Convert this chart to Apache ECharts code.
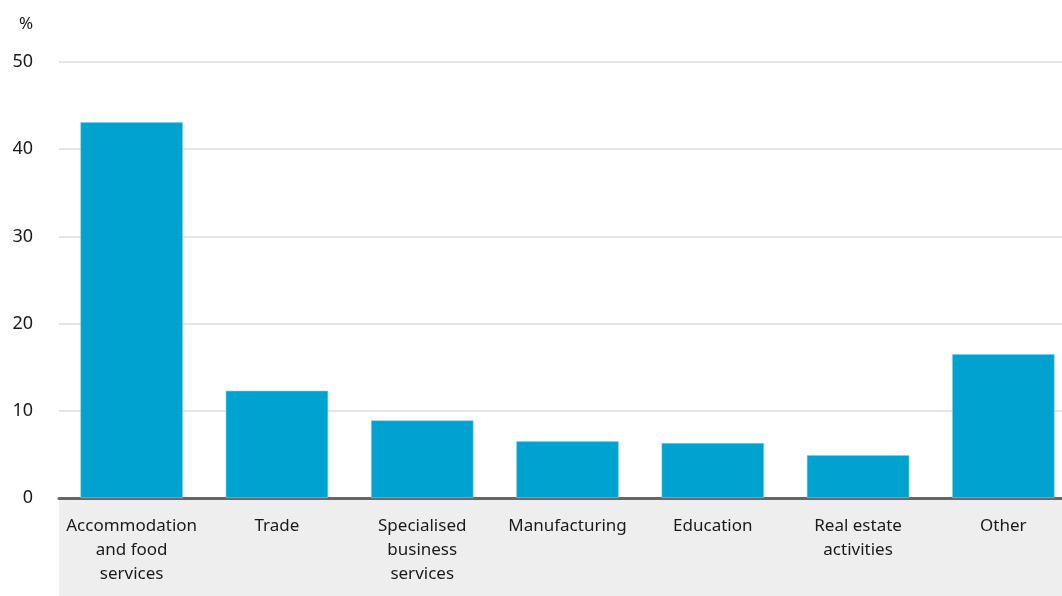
<!DOCTYPE html>
<html><head><meta charset="utf-8">
<script src="https://cdn.jsdelivr.net/npm/echarts@6/dist/echarts.min.js"></script>
<style>html,body{margin:0;padding:0;background:#fff;overflow:hidden;width:1062px;height:596px}#c{width:1076px;height:596px}</style>
</head><body><div id="c"></div>
<script>
const categories = ["Accommodation\nand food\nservices", "Trade", "Specialised\nbusiness\nservices", "Manufacturing", "Education", "Real estate\nactivities", "Other"];
const values = [43.1, 12.3, 8.9, 6.5, 6.3, 4.9, 16.5];
const yTicks = [0, 10, 20, 30, 40, 50];

const chart = echarts.init(document.getElementById('c'), null, {renderer: 'canvas', width: 1076, height: 596});
const FONT = 'Noto Sans';
chart.setOption({
  animation: false,
  title: {text: '%', left: 14, top: 11, textStyle: {fontFamily: FONT, fontSize: 17, fontWeight: 'normal', color: '#1a1a1a'}},
  graphic: [{type: 'rect', left: 59, top: 500, shape: {width: 1017, height: 96}, style: {fill: '#eeeeee'}, z: -10}],
  grid: {left: 59, top: 62, right: 0, bottom: 98, containLabel: false},
  xAxis: {
    type: 'category', data: categories,
    axisLine: {lineStyle: {color: '#666', width: 3}},
    axisTick: {show: false},
    axisLabel: {interval: 0, margin: 16, fontFamily: FONT, fontSize: 17, lineHeight: 24, color: '#1a1a1a'}
  },
  yAxis: {
    type: 'value', min: yTicks[0], max: yTicks[yTicks.length - 1], interval: 10,
    axisLine: {show: false}, axisTick: {show: false},
    axisLabel: {margin: 26, fontFamily: FONT, fontSize: 18, color: '#1a1a1a'},
    splitLine: {lineStyle: {color: '#dddddd', width: 1.5}}
  },
  series: [{
    type: 'bar', data: values, barWidth: '70.5%',
    itemStyle: {color: '#00a2cf', borderColor: '#7fd0e8', borderWidth: 0.6}
  }]
});
</script></body></html>
